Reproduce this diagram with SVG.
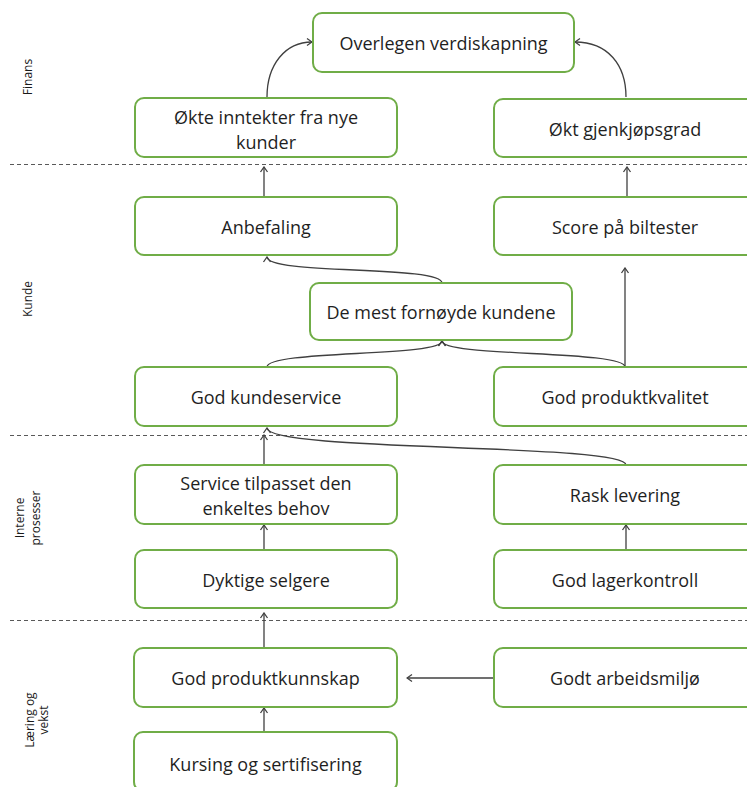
<svg xmlns="http://www.w3.org/2000/svg" width="747" height="787" viewBox="0 0 747 787">
  <style>
    .box { fill: #ffffff; stroke: #70ad47; stroke-width: 2; }
    .lbl { font-family: "Open Sans", "Noto Sans", "Liberation Sans", sans-serif; font-size: 18px; fill: #1f1f1f; text-anchor: middle; dominant-baseline: central; }
    .lane { font-family: "Open Sans", "Noto Sans", "Liberation Sans", sans-serif; font-size: 12px; fill: #1a1a1a; text-anchor: middle; dominant-baseline: central; }
    .sep { stroke: #595959; stroke-width: 1; stroke-dasharray: 4 3; fill: none; }
    .conn { stroke: #404040; stroke-width: 1.3; fill: none; marker-end: url(#arrow); }
  </style>
  <defs>
    <marker id="arrow" markerWidth="10" markerHeight="10" refX="9" refY="5" orient="auto" markerUnits="userSpaceOnUse">
      <path d="M4,1.5 L9,5 L4,8.5" fill="none" stroke="#404040" stroke-width="1.3"/>
    </marker>
  </defs>

  <rect width="747" height="787" fill="#ffffff"/>

  <!-- perspective separators -->
  <g id="separators">
    <line class="sep" x1="10" y1="164.5" x2="747" y2="164.5"/>
    <line class="sep" x1="10" y1="435.5" x2="747" y2="435.5"/>
    <line class="sep" x1="10" y1="620.5" x2="747" y2="620.5"/>
  </g>

  <!-- perspective labels -->
  <g id="lanes">
    <text class="lane" x="27" y="77" transform="rotate(-90 27 77)">Finans</text>
    <text class="lane" x="27" y="299" transform="rotate(-90 27 299)">Kunde</text>
    <text class="lane" x="19" y="518" transform="rotate(-90 19 518)">Interne</text>
    <text class="lane" x="35" y="518" transform="rotate(-90 35 518)">prosesser</text>
    <text class="lane" x="29" y="720" transform="rotate(-90 29 720)">Læring og</text>
    <text class="lane" x="43" y="720" transform="rotate(-90 43 720)">vekst</text>
  </g>

  <!-- connectors -->
  <g id="connectors">
    <path class="conn" d="M267,97 C267,65 285,42 312,42"/>
    <path class="conn" d="M626,97 C626,65 608,42 575,42"/>
    <path class="conn" d="M264,197 L264,167"/>
    <path class="conn" d="M627,197 L627,167"/>
    <path class="conn" d="M442,283 C442,265 267,275 267,257"/>
    <path class="conn" d="M267,367 C267,350 442,357 442,341"/>
    <path class="conn" d="M625,367 C625,350 442,357 442,341"/>
    <path class="conn" d="M625,367 L625,268"/>
    <path class="conn" d="M626,465 C626,443 267,452 267,428"/>
    <path class="conn" d="M264,465 L264,435"/>
    <path class="conn" d="M264,550 L264,525"/>
    <path class="conn" d="M626,550 L626,525"/>
    <path class="conn" d="M264,648 L264,613"/>
    <path class="conn" d="M264,732 L264,708"/>
    <path class="conn" d="M494,678 L407,678"/>
  </g>

  <!-- nodes -->
  <g id="overlegen">
    <rect class="box" x="313" y="13" width="261" height="59" rx="9"/>
    <text class="lbl" x="443.5" y="43">Overlegen verdiskapning</text>
  </g>
  <g id="okte-inntekter">
    <rect class="box" x="135" y="98" width="262" height="59" rx="9"/>
    <text class="lbl" x="266" y="117">Økte inntekter fra nye</text>
    <text class="lbl" x="266" y="142">kunder</text>
  </g>
  <g id="gjenkjop">
    <rect class="box" x="494" y="99" width="262" height="58" rx="9"/>
    <text class="lbl" x="625" y="129">Økt gjenkjøpsgrad</text>
  </g>
  <g id="anbefaling">
    <rect class="box" x="135" y="197" width="262" height="58" rx="9"/>
    <text class="lbl" x="266" y="227">Anbefaling</text>
  </g>
  <g id="biltester">
    <rect class="box" x="494" y="197" width="262" height="58" rx="9"/>
    <text class="lbl" x="625" y="227">Score på biltester</text>
  </g>
  <g id="fornoyde">
    <rect class="box" x="310" y="283" width="262" height="57" rx="9"/>
    <text class="lbl" x="441" y="312">De mest fornøyde kundene</text>
  </g>
  <g id="kundeservice">
    <rect class="box" x="135" y="367" width="262" height="59" rx="9"/>
    <text class="lbl" x="266" y="397">God kundeservice</text>
  </g>
  <g id="produktkvalitet">
    <rect class="box" x="494" y="367" width="262" height="59" rx="9"/>
    <text class="lbl" x="625" y="397">God produktkvalitet</text>
  </g>
  <g id="service-tilpasset">
    <rect class="box" x="135" y="465" width="262" height="59" rx="9"/>
    <text class="lbl" x="266" y="483">Service tilpasset den</text>
    <text class="lbl" x="266" y="508">enkeltes behov</text>
  </g>
  <g id="rask-levering">
    <rect class="box" x="494" y="465" width="262" height="59" rx="9"/>
    <text class="lbl" x="625" y="495">Rask levering</text>
  </g>
  <g id="selgere">
    <rect class="box" x="135" y="550" width="262" height="58" rx="9"/>
    <text class="lbl" x="266" y="580">Dyktige selgere</text>
  </g>
  <g id="lagerkontroll">
    <rect class="box" x="494" y="550" width="262" height="58" rx="9"/>
    <text class="lbl" x="625" y="580">God lagerkontroll</text>
  </g>
  <g id="produktkunnskap">
    <rect class="box" x="134" y="648" width="263" height="59" rx="9"/>
    <text class="lbl" x="265.5" y="678">God produktkunnskap</text>
  </g>
  <g id="arbeidsmiljo">
    <rect class="box" x="494" y="648" width="262" height="59" rx="9"/>
    <text class="lbl" x="625" y="678">Godt arbeidsmiljø</text>
  </g>
  <g id="kursing">
    <rect class="box" x="134" y="732" width="263" height="59" rx="9"/>
    <text class="lbl" x="265.5" y="764">Kursing og sertifisering</text>
  </g>
</svg>
